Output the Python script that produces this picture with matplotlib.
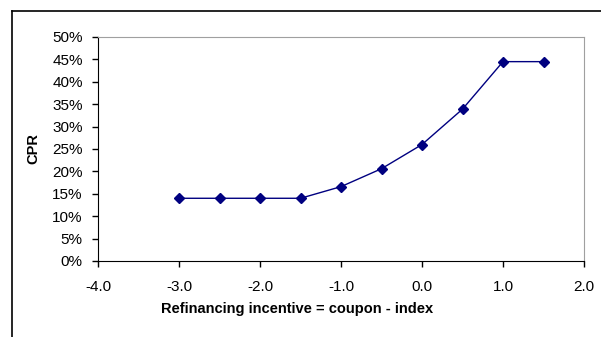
import matplotlib
matplotlib.use("Agg")
import matplotlib.pyplot as plt
from matplotlib.lines import Line2D
from matplotlib.ticker import FuncFormatter, MultipleLocator

# refinancing incentive (coupon - index) vs CPR
incentive = [-3.0, -2.5, -2.0, -1.5, -1.0, -0.5, 0.0, 0.5, 1.0, 1.5]
cpr = [0.14, 0.14, 0.14, 0.14, 0.166, 0.206, 0.26, 0.339, 0.445, 0.445]

plt.rcParams["font.family"] = ["Liberation Sans", "DejaVu Sans"]
plt.rcParams["font.size"] = 11

W, H = 601, 337
x0, x1, y_top, y_bot = 98, 584, 37, 261

fig = plt.figure(figsize=(W / 100, H / 100), dpi=100)
ax = fig.add_axes([x0 / W, 1 - y_bot / H, (x1 - x0) / W, (y_bot - y_top) / H])

ax.plot(incentive, cpr, color="#000080", linewidth=1.0, marker="D",
        markersize=5.5, markerfacecolor="#000080", markeredgecolor="#000080")

ax.set_xlim(-4.0, 2.0)
ax.set_ylim(0, 0.5)
ax.xaxis.set_major_locator(MultipleLocator(1.0))
ax.yaxis.set_major_locator(MultipleLocator(0.05))
ax.xaxis.set_major_formatter(FuncFormatter(lambda v, p: f"{v:.1f}"))
ax.yaxis.set_major_formatter(FuncFormatter(lambda v, p: f"{v * 100:.0f}%"))

ax.set_xlabel("Refinancing incentive = coupon - index", fontweight="bold", fontsize=10.5)
ax.set_ylabel("CPR", fontweight="bold", fontsize=10.5)
# labels sit where the original chart put them (x label is left of axes centre)
ax.xaxis.label.set_va("center")
ax.xaxis.set_label_coords((297 - x0) / (x1 - x0), (y_bot - 309) / (y_bot - y_top))
ax.yaxis.label.set_va("center")
ax.yaxis.set_label_coords((33.5 - x0) / (x1 - x0), 0.5)

ax.spines["left"].set_color("black")
ax.spines["bottom"].set_color("black")
ax.spines["top"].set_color("#a0a0a0")
ax.spines["right"].set_color("#a0a0a0")
ax.tick_params(axis="both", direction="out", length=4, width=1, colors="black")
ax.tick_params(axis="x", pad=10)
ax.tick_params(axis="y", pad=7)

# chart-area border (left and top edges visible)
fig.add_artist(Line2D([11.5 / W, 11.5 / W], [0, 1 - 10.5 / H],
                      transform=fig.transFigure, color="black", linewidth=1.2))
fig.add_artist(Line2D([11.5 / W, 1], [1 - 10.5 / H, 1 - 10.5 / H],
                      transform=fig.transFigure, color="black", linewidth=1.2))

fig.savefig("out.png", dpi=100)
